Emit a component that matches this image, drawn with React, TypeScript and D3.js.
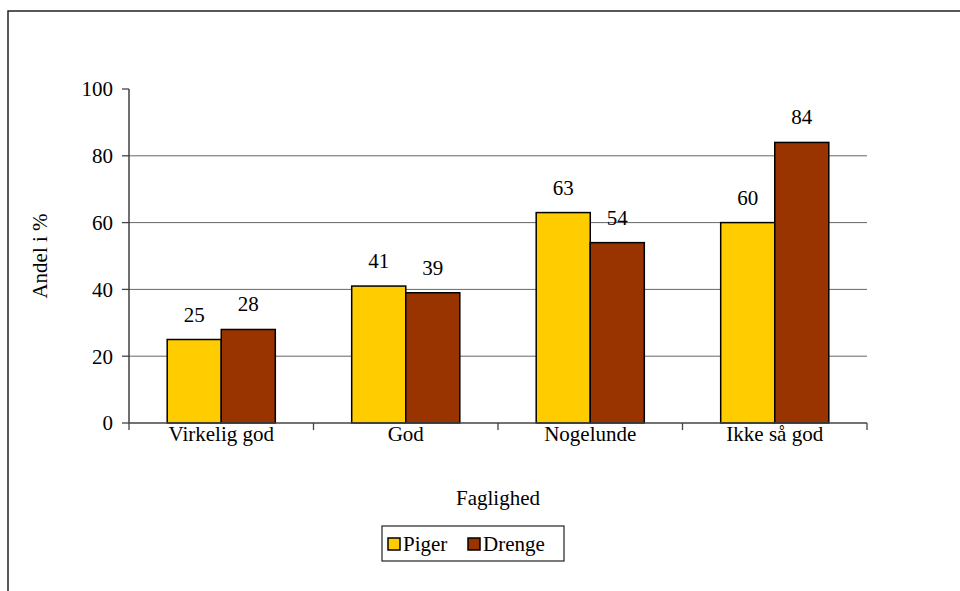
import React from 'react';
import * as d3 from 'd3';

const categories = ['Virkelig god', 'God', 'Nogelunde', 'Ikke så god'];
const seriesNames = ['Piger', 'Drenge'];
const piger = [25, 41, 63, 60];
const drenge = [28, 39, 54, 84];
const yTicks = [0, 20, 40, 60, 80, 100];
const colors = ['#FFCC00', '#993300'];

const W = 960;
const H = 591;
const FONT = 'Liberation Serif';
const FS = 21;

const left = 129, right = 867, top = 89, bottom = 423;

const x0 = d3.scaleBand<string>().domain(categories).range([left, right]);
const bw = x0.bandwidth();
const x1 = d3.scaleBand<string>().domain(seriesNames).range([bw * 0.207, bw * 0.793]);
const y = d3.scaleLinear().domain([0, 100]).range([bottom, top]);
const seriesVals = [piger, drenge];

const App: React.FC = () => {
  const edges = [...categories.map(c => x0(c)!), right];
  return (
    <svg width={W} height={H} fontFamily={FONT} fontSize={FS}
      style={{ position: 'absolute', left: 0, top: 0, background: '#fff' }}>
      {/* outer frame, cut at right/bottom */}
      <path d={`M8,${H + 2} L8,11 L${W + 2},11`} fill="none" stroke="#222" strokeWidth={1.5} />

      {/* gridlines */}
      {yTicks.filter(t => t > 0 && t < 100).map(t => (
        <line key={t} x1={left} x2={right} y1={y(t)} y2={y(t)} stroke="#666" strokeWidth={1} />
      ))}

      {/* y axis */}
      <line x1={left} x2={left} y1={top} y2={bottom} stroke="#222" strokeWidth={1.3} />
      {yTicks.map(t => (
        <g key={t}>
          <line x1={left - 7} x2={left} y1={y(t)} y2={y(t)} stroke="#444" strokeWidth={1.3} />
          <text x={left - 16} y={y(t)} dy="0.35em" textAnchor="end">{t}</text>
        </g>
      ))}

      {/* bars and value labels */}
      {categories.map((c, i) => (
        <g key={c} transform={`translate(${x0(c)},0)`}>
          {seriesNames.map((s, k) => {
            const v = seriesVals[k][i];
            return (
              <g key={s}>
                <rect x={x1(s)} y={y(v)} width={x1.bandwidth()} height={bottom - y(v)}
                  fill={colors[k]} stroke="#000" strokeWidth={1.5} />
                <text x={x1(s)! + x1.bandwidth() / 2} y={y(v) - 18} textAnchor="middle">{v}</text>
              </g>
            );
          })}
        </g>
      ))}

      {/* x axis */}
      <line x1={left} x2={right} y1={bottom} y2={bottom} stroke="#444" strokeWidth={1.3} />
      {edges.map(e => (
        <line key={e} x1={e} x2={e} y1={bottom} y2={bottom + 7} stroke="#444" strokeWidth={1.3} />
      ))}
      {categories.map(c => (
        <text key={c} x={x0(c)! + bw / 2} y={bottom + 11} dy="0.35em" textAnchor="middle">{c}</text>
      ))}

      {/* axis titles */}
      <text x={(left + right) / 2} y={505} textAnchor="middle">Faglighed</text>
      <text transform={`translate(47,${(top + bottom) / 2}) rotate(-90)`} textAnchor="middle">Andel i %</text>

      {/* legend */}
      <g transform="translate(382,526)">
        <rect width={182} height={35} fill="#fff" stroke="#222" strokeWidth={1.2} />
        {seriesNames.map((s, k) => {
          const lx = k === 0 ? 6 : 86;
          return (
            <g key={s}>
              <rect x={lx} y={12} width={12} height={12} fill={colors[k]} stroke="#000" strokeWidth={1.5} />
              <text x={lx + 15} y={18} dy="0.35em">{s}</text>
            </g>
          );
        })}
      </g>
    </svg>
  );
};

export default App;
